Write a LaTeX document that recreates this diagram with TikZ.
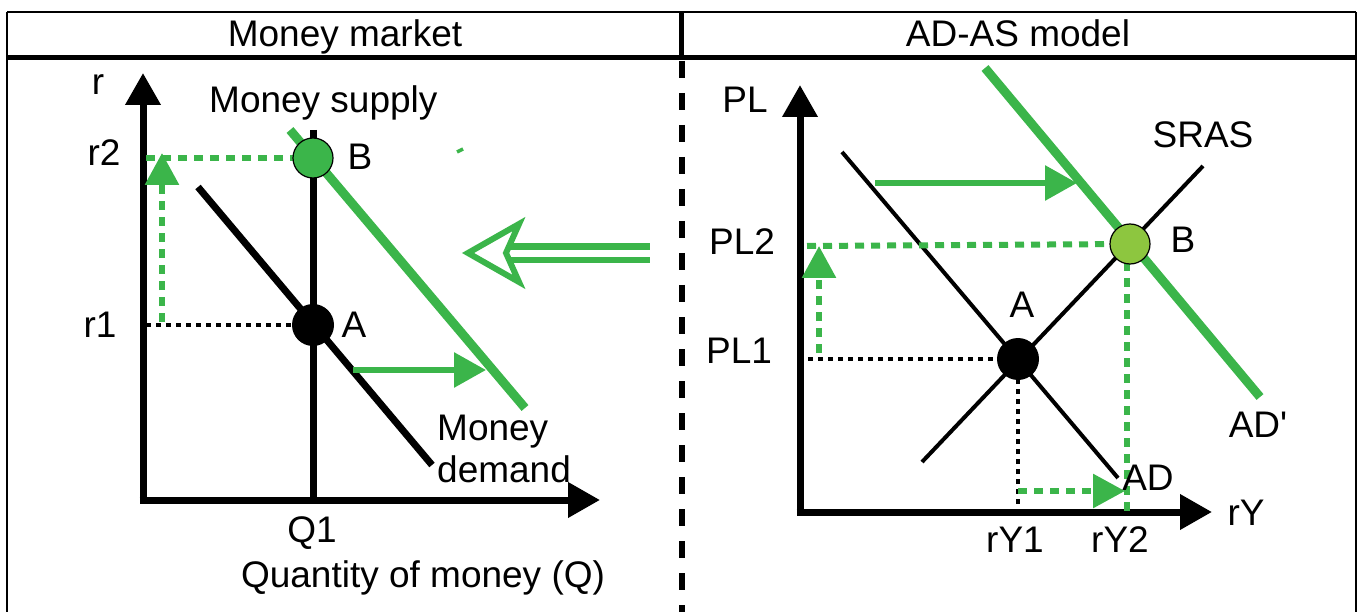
\documentclass[tikz,border=0pt]{standalone}
\usepackage{fontspec}
\setmainfont{Liberation Sans}
\usetikzlibrary{arrows.meta}
\definecolor{grn}{RGB}{59,181,74}
\definecolor{lgrn}{RGB}{141,198,63}
\begin{document}
\begin{tikzpicture}[x=1pt,y=-1pt,
  lbl/.style={font=\fontsize{37}{41}\selectfont, inner sep=0pt, anchor=base},
  lblw/.style={lbl, anchor=base west},
  axisline/.style={line width=7pt, -{Triangle[length=32pt,width=34pt]}},
  gdash/.style={grn, line width=6pt, dash pattern=on 9pt off 7pt},
  bdot/.style={black, line width=3.5pt, dash pattern=on 5pt off 5pt},
  garrow/.style={grn, line width=6pt, -{Triangle[length=32pt,width=34pt]}},
  gdarrow/.style={gdash, -{Triangle[length=32pt,width=33pt]}},
  thickblack/.style={black, line width=7pt},
  thinblack/.style={black, line width=4pt},
  gcurve/.style={grn, line width=9pt},
  dotblack/.style={circle, fill=black, inner sep=0pt, minimum size=42pt},
  dotgreen/.style={circle, draw=black, line width=1.2pt, inner sep=0pt, minimum size=40pt},
  frame/.style={black, line width=2.5pt},
  framethick/.style={black, line width=5pt}]
\useasboundingbox (0,0) rectangle (1362,612);

% ---------- frame ----------
\coordinate (tl) at (7,12);
\coordinate (tr) at (1356,12);
\coordinate (bl) at (7,612);
\coordinate (br) at (1356,612);
\coordinate (hl) at (7,57.5);
\coordinate (hr) at (1356,57.5);
\coordinate (mt) at (681.5,12);
\coordinate (mh) at (681.5,57.5);
\coordinate (md) at (681.5,61);
\coordinate (mb) at (681.5,612);
\draw[frame] (tl) -- (tr);
\draw[frame] (tl) -- (bl);
\draw[frame] (tr) -- (br);
\draw[framethick] (hl) -- (hr);
\draw[framethick] (mt) -- (mh);
\draw[black, line width=6pt, dash pattern=on 17pt off 15pt] (md) -- (mb);
\node[lbl] (hleft) at (345,47) {Money market};
\node[lbl] (hright) at (1018,47) {AD-AS model};

% ---------- money market ----------
\coordinate (O1) at (143,500);
\coordinate (Ytip1) at (143,73);
\coordinate (Xstart1) at (139.5,500);
\coordinate (Xtip1) at (600,500);
\coordinate (pB1) at (313,158);
\coordinate (pA1) at (313,325);
\coordinate (msTop) at (313,130);
\coordinate (msBot) at (313,500);
\coordinate (mdTop) at (198,187);
\coordinate (mdBot) at (432,465);
\coordinate (ms2Top) at (290,130);
\coordinate (ms2Bot) at (525,408);
\coordinate (r2s) at (146,158);
\coordinate (r1s) at (146,325);
\coordinate (upS) at (162,322);
\coordinate (upT) at (162,153);
\coordinate (shS) at (353,370);
\coordinate (shT) at (486,370);

\draw[axisline] (O1) -- (Ytip1);
\draw[axisline] (Xstart1) -- (Xtip1);
\draw[thickblack] (msTop) -- (msBot);
\draw[thickblack] (mdTop) -- (mdBot);
\draw[gcurve] (ms2Top) -- (ms2Bot);
\draw[gdash] (r2s) -- (pB1);
\draw[bdot] (r1s) -- (pA1);
\draw[gdarrow] (upS) -- (upT);
\draw[garrow] (shS) -- (shT);
\node[dotgreen, fill=grn] (B1) at (pB1) {};
\node[dotblack] (A1) at (pA1) {};

\node[lbl] (lr) at (98,95) {r};
\node[lbl] (lr2) at (104,166) {r2};
\node[lbl] (lr1) at (100,337) {r1};
\node[lblw] (lms) at (209,113) {Money supply};
\node[lbl] (lB1) at (360,170) {B};
\node[lbl] (lA1) at (354,337) {A};
\node[lblw] (lmd1) at (437,440) {Money};
\node[lblw] (lmd2) at (437,482) {demand};
\node[lbl] (lq1) at (312,542) {Q1};
\node[lbl] (lqm) at (423,587) {Quantity of money (Q)};

% stray mark
\coordinate (sm1) at (457,152);
\coordinate (sm2) at (463,149);
\draw[grn, line width=3.5pt] (sm1) -- (sm2);

% ---------- hollow arrow ----------
\coordinate (hTip) at (468,253);
\coordinate (hTop) at (519,224);
\coordinate (hNotch) at (506,253);
\coordinate (hBot) at (519,282);
\coordinate (s1a) at (509,246.5);
\coordinate (s1b) at (650,246.5);
\coordinate (s2a) at (509,260);
\coordinate (s2b) at (650,260);
\draw[grn, line width=6pt, fill=white, line join=miter] (hTip) -- (hTop) -- (hNotch) -- (hBot) -- cycle;
\draw[grn, line width=6.5pt] (s1a) -- (s1b);
\draw[grn, line width=6.5pt] (s2a) -- (s2b);

% ---------- AD-AS ----------
\coordinate (O2) at (800,512);
\coordinate (Ytip2) at (800,85);
\coordinate (Xstart2) at (796.5,512);
\coordinate (Xtip2) at (1212,512);
\coordinate (pA2) at (1018,359);
\coordinate (pB2) at (1130,244);
\coordinate (adTop) at (842,152);
\coordinate (adBot) at (1118,478);
\coordinate (srBot) at (922,462);
\coordinate (srTop) at (1203,166);
\coordinate (ad2Top) at (985,68);
\coordinate (ad2Bot) at (1260,397);
\coordinate (pl2s) at (807,246);
\coordinate (pl1s) at (808,359);
\coordinate (upS2) at (819,353);
\coordinate (upT2) at (819,246);
\coordinate (shS2) at (875,183);
\coordinate (shT2) at (1077,183);
\coordinate (ry1b) at (1018,504);
\coordinate (ry2t) at (1127,262);
\coordinate (ry2b) at (1127,516);
\coordinate (rsS) at (1018,491);
\coordinate (rsT) at (1125,491);

\draw[axisline] (O2) -- (Ytip2);
\draw[axisline] (Xstart2) -- (Xtip2);
\draw[thinblack] (adTop) -- (adBot);
\draw[thinblack] (srBot) -- (srTop);
\draw[gcurve] (ad2Top) -- (ad2Bot);
\draw[gdash] (pl2s) -- (pB2);
\draw[bdot] (pl1s) -- (pA2);
\draw[bdot] (pA2) -- (ry1b);
\draw[gdash] (ry2t) -- (ry2b);
\draw[gdarrow] (upS2) -- (upT2);
\draw[gdarrow] (rsS) -- (rsT);
\draw[garrow] (shS2) -- (shT2);
\node[dotgreen, fill=lgrn] (B2) at (pB2) {};
\node[dotblack] (A2) at (pA2) {};

\node[lbl] (lpl) at (745,113) {PL};
\node[lbl] (lpl2) at (742,255) {PL2};
\node[lbl] (lpl1) at (739,363) {PL1};
\node[lbl] (lry) at (1246,525) {rY};
\node[lbl] (lry1) at (1015,552) {rY1};
\node[lbl] (lry2) at (1120,552) {rY2};
\node[lbl] (lA2) at (1022,317) {A};
\node[lbl] (lB2) at (1183,253) {B};
\node[lbl] (lsras) at (1203,148) {SRAS};
\node[lbl] (lad2) at (1258,437) {AD\XeTeXglyph\XeTeXcharglyph"0027\relax};
\node[lbl] (lad) at (1148,490) {AD};
\end{tikzpicture}
\end{document}
